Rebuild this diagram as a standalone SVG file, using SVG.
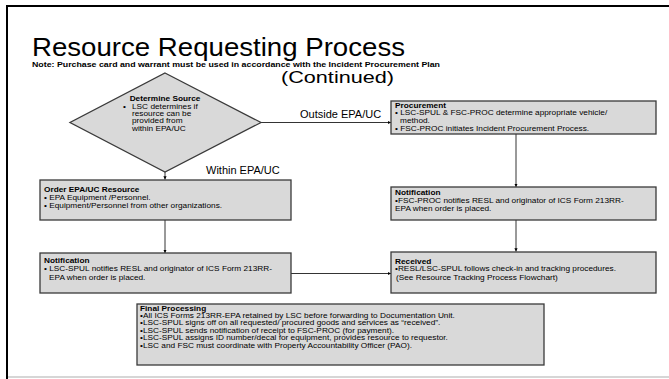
<svg xmlns="http://www.w3.org/2000/svg" width="669" height="379" viewBox="0 0 669 379">
  <style>
    .box { fill: #d9d9d9; stroke: #3a3a3a; stroke-width: 1.3; }
    .t { font-family: "Liberation Sans", Arial, sans-serif; font-size: 7.6px; fill: #000; }
    .h { font-weight: bold; }
    .lbl { font-family: "Liberation Sans", Arial, sans-serif; font-size: 11px; fill: #000; }
    .edge { fill: none; stroke: #000; stroke-width: 0.8; }
  </style>
  <defs>
    <marker id="arr" viewBox="0 0 6 6" refX="6" refY="3" markerWidth="4" markerHeight="4" orient="auto">
      <path d="M0,0 L6,3 L0,6 Z" fill="#000"/>
    </marker>
  </defs>

  <rect width="669" height="379" fill="#fff"/>
  <!-- page frame -->
  <line x1="6" y1="6" x2="669" y2="6" stroke="#000" stroke-width="2"/>
  <line x1="7" y1="5" x2="7" y2="379" stroke="#000" stroke-width="2"/>
  <line x1="8" y1="377" x2="669" y2="377" stroke="#c8c8c8" stroke-width="1.5"/>

  <!-- heading -->
  <text x="32" y="55.5" font-family="Liberation Sans, Arial, sans-serif" font-size="25" textLength="373" lengthAdjust="spacingAndGlyphs">Resource Requesting Process</text>
  <text x="32" y="67" class="t h" font-size="5.6" textLength="408" lengthAdjust="spacingAndGlyphs">Note: Purchase card and warrant must be used in accordance with the Incident Procurement Plan</text>
  <text x="281" y="83" font-family="Liberation Sans, Arial, sans-serif" font-size="17" textLength="113" lengthAdjust="spacingAndGlyphs">(Continued)</text>

  <!-- connectors -->
  <g id="connectors">
    <line class="edge" x1="165" y1="172" x2="165" y2="179.5" marker-end="url(#arr)"/>
    <line class="edge" x1="261" y1="122.5" x2="391" y2="122.5" marker-end="url(#arr)"/>
    <line class="edge" x1="165" y1="220" x2="165" y2="253" marker-end="url(#arr)"/>
    <line class="edge" x1="516" y1="134" x2="516" y2="187" marker-end="url(#arr)"/>
    <line class="edge" x1="516" y1="220" x2="516" y2="251.5" marker-end="url(#arr)"/>
    <line class="edge" x1="291" y1="273.5" x2="391" y2="273.5" marker-end="url(#arr)"/>
    <text class="lbl" x="300" y="117.5">Outside EPA/UC</text>
    <text class="lbl" x="206" y="173.5">Within EPA/UC</text>
  </g>

  <!-- decision; body text is set slightly condensed vertically via a horizontal stretch -->
  <g id="determine-source">
    <polygon class="box" points="165,73 261,122.5 165,172 70,122.5"/>
    <g transform="translate(132,0) scale(1.09,1)">
      <text class="t h" x="30.3" y="101" text-anchor="middle">Determine Source</text>
      <text class="t" x="-8.3" y="108.6">•</text>
      <text class="t" x="0" y="108.6">LSC determines if</text>
      <text class="t" x="0" y="116.1">resource can be</text>
      <text class="t" x="0" y="123.5">provided from</text>
      <text class="t" x="0" y="130.9">within EPA/UC</text>
    </g>
  </g>

  <g id="procurement">
    <rect class="box" x="391" y="101" width="265" height="33"/>
    <g transform="translate(395,0) scale(1.09,1)">
      <text class="t h" x="0" y="107.8">Procurement</text>
      <text class="t" x="0" y="115.2">• LSC-SPUL &amp; FSC-PROC determine appropriate vehicle/</text>
      <text class="t" x="4.6" y="122.8">method.</text>
      <text class="t" x="0" y="130.6">• FSC-PROC initiates Incident Procurement Process.</text>
    </g>
  </g>

  <g id="order-resource">
    <rect class="box" x="40" y="180" width="251" height="40"/>
    <g transform="translate(44,0) scale(1.09,1)">
      <text class="t h" x="0" y="192">Order EPA/UC Resource</text>
      <text class="t" x="0" y="199.6">• EPA Equipment /Personnel.</text>
      <text class="t" x="0" y="207.6">• Equipment/Personnel from other organizations.</text>
    </g>
  </g>

  <g id="notification-proc">
    <rect class="box" x="391" y="187" width="265" height="33"/>
    <g transform="translate(395,0) scale(1.09,1)">
      <text class="t h" x="0" y="195.2">Notification</text>
      <text class="t" x="0" y="202.8">•FSC-PROC notifies RESL and originator of ICS Form 213RR-</text>
      <text class="t" x="0" y="210.6">EPA when order is placed.</text>
    </g>
  </g>

  <g id="notification-order">
    <rect class="box" x="40" y="253" width="251" height="40"/>
    <g transform="translate(44,0) scale(1.09,1)">
      <text class="t h" x="0" y="263.5">Notification</text>
      <text class="t" x="0" y="271.2">• LSC-SPUL notifies RESL and originator of ICS Form 213RR-</text>
      <text class="t" x="4.6" y="279.6">EPA when order is placed.</text>
    </g>
  </g>

  <g id="received">
    <rect class="box" x="391" y="252" width="265" height="41"/>
    <g transform="translate(395,0) scale(1.09,1)">
      <text class="t h" x="0" y="263.6">Received</text>
      <text class="t" x="0" y="271.3">•RESL/LSC-SPUL follows check-in and tracking procedures.</text>
      <text class="t" x="0.9" y="279.6">(See Resource Tracking Process Flowchart)</text>
    </g>
  </g>

  <g id="final-processing">
    <rect class="box" x="137" y="304" width="407" height="61"/>
    <g transform="translate(140,0) scale(1.09,1)">
      <text class="t h" x="0" y="310.6">Final Processing</text>
      <text class="t" x="0" y="317.8">•All ICS Forms 213RR-EPA retained by LSC before forwarding to Documentation Unit.</text>
      <text class="t" x="0" y="325.4">•LSC-SPUL signs off on all requested/ procured goods and services as “received”.</text>
      <text class="t" x="0" y="332.8">•LSC-SPUL sends notification of receipt to FSC-PROC (for payment).</text>
      <text class="t" x="0" y="340.4">•LSC-SPUL assigns ID number/decal for equipment, provides resource to requestor.</text>
      <text class="t" x="0" y="348">•LSC and FSC must coordinate with Property Accountability Officer (PAO).</text>
    </g>
  </g>
</svg>
